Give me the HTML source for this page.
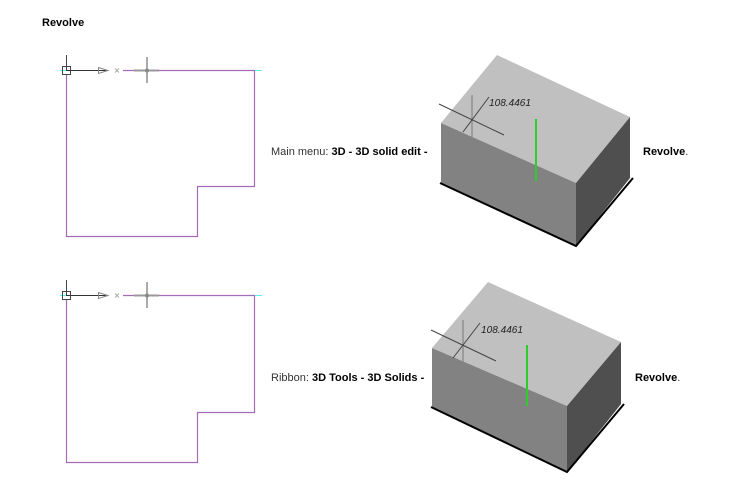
<!DOCTYPE html>
<html><head><meta charset="utf-8"><style>
html,body{margin:0;padding:0;background:#fff;}
svg{display:block;}
.t{font-family:"Liberation Sans",sans-serif;font-size:11px;fill:#333;}
.b{font-weight:bold;fill:#000;}
.d{font-family:"Liberation Sans",sans-serif;font-size:10px;font-style:italic;fill:#222;}
</style></head><body>
<svg width="743" height="497" viewBox="0 0 743 497" xmlns="http://www.w3.org/2000/svg">
<text x="42" y="26" class="t b">Revolve</text>

<!-- Drawing 1 -->
<g fill="none">
<polyline points="123,70.5 254.5,70.5 254.5,186.5 197.5,186.5 197.5,236.5 66.5,236.5 66.5,74" stroke="#a46cb4" stroke-width="1.2"/>
<line x1="60" y1="70.5" x2="66" y2="70.5" stroke="#5ee" />
<line x1="255" y1="70.5" x2="262" y2="70.5" stroke="#5ee" />
<rect x="62.5" y="66.5" width="8" height="8" stroke="#444"/>
<line x1="66.5" y1="55" x2="66.5" y2="70" stroke="#444"/>
<line x1="66" y1="70.5" x2="108" y2="70.5" stroke="#333"/>
<polygon points="98.5,67.5 108,70.5 98.5,73.5" stroke="#888"/>
<path d="M115,68.5 l4,4 M119,68.5 l-4,4" stroke="#aaa"/>
<line x1="134" y1="70.5" x2="159" y2="70.5" stroke="#999" stroke-width="2"/>
<line x1="147" y1="57" x2="147" y2="83" stroke="#aaa" stroke-width="2"/>
<circle cx="147" cy="70.5" r="2" fill="#888"/>
</g>

<!-- Drawing 2 -->
<g fill="none">
<polyline points="123,295.5 254.5,295.5 254.5,412.5 197.5,412.5 197.5,462.5 66.5,462.5 66.5,299" stroke="#a46cb4" stroke-width="1.2"/>
<line x1="60" y1="295.5" x2="66" y2="295.5" stroke="#5ee" />
<line x1="255" y1="295.5" x2="262" y2="295.5" stroke="#5ee" />
<rect x="62.5" y="291.5" width="8" height="8" stroke="#444"/>
<line x1="66.5" y1="280" x2="66.5" y2="295" stroke="#444"/>
<line x1="66" y1="295.5" x2="108" y2="295.5" stroke="#333"/>
<polygon points="98.5,292.5 108,295.5 98.5,298.5" stroke="#888"/>
<path d="M115,293.5 l4,4 M119,293.5 l-4,4" stroke="#aaa"/>
<line x1="134" y1="295.5" x2="159" y2="295.5" stroke="#999" stroke-width="2"/>
<line x1="147" y1="282" x2="147" y2="308" stroke="#aaa" stroke-width="2"/>
<circle cx="147" cy="295.5" r="2" fill="#888"/>
</g>

<!-- Box 1 -->
<polygon points="497,55 630,117 576,183 441,123" fill="#c0c0c0"/>
<polygon points="441,123 576,183 576,246 441,183" fill="#828282"/>
<polygon points="576,183 630,117 630,178 576,246" fill="#4f4f4f"/>
<polyline points="440,183 576,246 633,178" fill="none" stroke="#000" stroke-width="2"/>
<line x1="536" y1="119" x2="536" y2="181" stroke="#2ecc2e" stroke-width="2"/>
<g stroke="#444" stroke-width="1" fill="none">
<line x1="472" y1="95" x2="472" y2="137" stroke="#888" stroke-width="1.3"/>
<line x1="439" y1="104" x2="504" y2="135"/>
<line x1="463" y1="132" x2="489" y2="97"/>
</g>
<text x="489" y="106" class="d" textLength="42" lengthAdjust="spacingAndGlyphs">108.4461</text>
<text x="271" y="155" class="t">Main menu: <tspan class="b">3D - 3D solid edit -</tspan></text>
<text x="643" y="155" class="t"><tspan class="b">Revolve</tspan>.</text>

<!-- Box 2 -->
<polygon points="488,282 621,342 567,406 432,348" fill="#c0c0c0"/>
<polygon points="432,348 567,406 567,472 432,407" fill="#828282"/>
<polygon points="567,406 621,342 621,404 567,472" fill="#4f4f4f"/>
<polyline points="431,407 567,472 624,404" fill="none" stroke="#000" stroke-width="2"/>
<line x1="527" y1="345" x2="527" y2="406" stroke="#2ecc2e" stroke-width="2"/>
<g stroke="#444" stroke-width="1" fill="none">
<line x1="463" y1="320" x2="463" y2="363" stroke="#888" stroke-width="1.3"/>
<line x1="431" y1="330" x2="496" y2="361"/>
<line x1="453" y1="358" x2="480" y2="323"/>
</g>
<text x="481" y="333" class="d" textLength="42" lengthAdjust="spacingAndGlyphs">108.4461</text>
<text x="271" y="381" class="t">Ribbon: <tspan class="b">3D Tools - 3D Solids -</tspan></text>
<text x="635" y="381" class="t"><tspan class="b">Revolve</tspan>.</text>
</svg>
</body></html>
